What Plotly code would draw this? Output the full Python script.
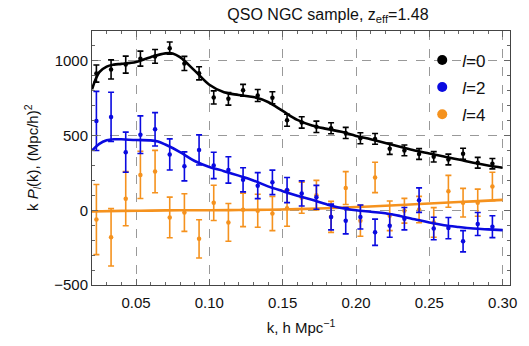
import plotly.graph_objects as go

# ---------------- data ----------------
k_data = [0.023, 0.033, 0.043, 0.053, 0.063, 0.073, 0.083, 0.093, 0.103, 0.113,
          0.123, 0.133, 0.143, 0.153, 0.163, 0.173, 0.183, 0.193, 0.203, 0.213,
          0.223, 0.233, 0.243, 0.253, 0.263, 0.273, 0.283, 0.293]

p0 = [915, 943, 975, 1015, 1030, 1085, 983, 917, 755, 746,
      803, 768, 753, 603, 588, 559, 549, 518, 482, 478,
      412, 401, 377, 358, 340, 378, 318, 312]
e0 = [57, 64, 57, 50, 46, 41, 47, 44, 44, 42,
      40, 40, 40, 40, 38, 38, 37, 37, 37, 36,
      38, 36, 36, 35, 36, 37, 36, 35]

p2 = [598, 625, 389, 506, 542, 374, 294, 404, 300, 270,
      204, 165, 187, 135, 113, 87, -45, -70, -45, -147,
      -103, -56, 68, -122, -119, -207, -92, -110]
e2 = [198, 165, 134, 126, 112, 104, 97, 101, 88, 88,
      81, 87, 82, 84, 84, 80, 86, 88, 80, 88,
      77, 75, 82, 75, 71, 71, 77, 73]

p4 = [-62, -181, 78, 237, 259, -48, -15, -191, 50, -81,
      3, -3, -22, 13, 84, 101, -44, 149, -70, 220,
      -37, -3, 5, -81, 127, 51, 51, 160]
e4 = [235, 192, 181, 158, 142, 136, 126, 128, 118, 126,
      112, 110, 114, 120, 104, 99, 104, 110, 104, 102,
      99, 83, 88, 99, 107, 96, 91, 95]

# model curves
k_m0 = [0.020, 0.025, 0.030, 0.035, 0.040, 0.050, 0.060, 0.070, 0.075, 0.080,
        0.090, 0.100, 0.110, 0.120, 0.130, 0.140, 0.150, 0.160, 0.170, 0.180,
        0.190, 0.200, 0.210, 0.220, 0.230, 0.240, 0.250, 0.260, 0.270, 0.280,
        0.290, 0.300]
m0 = [810, 925, 962, 975, 980, 992, 1025, 1050, 1050, 1025,
      935, 840, 790, 772, 758, 725, 665, 605, 568, 545,
      525, 498, 475, 450, 425, 400, 380, 360, 340, 318,
      300, 285]

k_m2 = [0.020, 0.025, 0.030, 0.035, 0.040, 0.050, 0.060, 0.065, 0.070, 0.080,
        0.090, 0.100, 0.110, 0.120, 0.130, 0.140, 0.150, 0.160, 0.170, 0.180,
        0.190, 0.200, 0.210, 0.220, 0.230, 0.240, 0.250, 0.260, 0.270, 0.280,
        0.290, 0.300]
m2 = [400, 445, 468, 475, 475, 470, 468, 460, 440, 390,
      330, 290, 262, 232, 200, 160, 128, 98, 70, 40,
      15, 0, -10, -20, -38, -60, -82, -100, -112, -122,
      -128, -133]

k_m4 = [0.02, 0.04, 0.06, 0.08, 0.10, 0.12, 0.14, 0.16, 0.18, 0.20,
        0.22, 0.24, 0.26, 0.28, 0.30]
m4 = [-8, -4, -2, 0, 0, 2, 4, 8, 14, 22, 30, 40, 50, 60, 70]

labels = ["<i>l</i>=0", "<i>l</i>=2", "<i>l</i>=4"]
colors = ["#000000", "#0a0ae0", "#f5921e"]

x_ticks = [0.05, 0.10, 0.15, 0.20, 0.25, 0.30]
x_ticktext = ["0.05", "0.10", "0.15", "0.20", "0.25", "0.30"]
y_ticks = [-500, 0, 500, 1000]
y_ticktext = ["\u2212500", "0", "500", "1000"]

FONT = "Liberation Sans, Arial, sans-serif"

fig = go.Figure()

series = [(p0, e0, k_m0, m0), (p2, e2, k_m2, m2), (p4, e4, k_m4, m4)]
# draw in reverse so black is on top
for idx in [2, 1, 0]:
    p, e, km, m = series[idx]
    c = colors[idx]
    fig.add_trace(go.Scatter(x=km, y=m, mode="lines", line=dict(color=c, width=2.6, shape="spline"),
                             showlegend=False, hoverinfo="skip"))
    fig.add_trace(go.Scatter(x=k_data, y=p, mode="markers",
                             marker=dict(color=c, size=4.5),
                             error_y=dict(type="data", array=e, color=c, thickness=1.6, width=3),
                             showlegend=False))

for idx in range(3):
    fig.add_trace(go.Scatter(x=[None], y=[None], mode="markers", name=labels[idx],
                             marker=dict(color=colors[idx], size=10),
                             legendgroup=str(idx)))

axis_common = dict(
    showline=True, linecolor="#444", linewidth=1, mirror="allticks",
    ticks="inside", ticklen=6, tickcolor="#666", tickwidth=1,
    showgrid=True, gridcolor="#999", griddash="dash", gridwidth=1,
    zeroline=False,
    tickfont=dict(family=FONT, size=15, color="#111"),
)

fig.update_xaxes(range=[0.02, 0.305], tickvals=x_ticks, ticktext=x_ticktext,
                 ticklabelstandoff=4,
                 minor=dict(dtick=0.01, tick0=0.0, ticks="inside", ticklen=3, tickcolor="#666", showgrid=False),
                 title=dict(text="k, h Mpc<sup>\u22121</sup>", font=dict(family=FONT, size=15, color="#111"), standoff=12),
                 **axis_common)
fig.update_yaxes(range=[-500, 1200], tickvals=y_ticks, ticktext=y_ticktext,
                 minor=dict(dtick=100, tick0=0, ticks="inside", ticklen=3, tickcolor="#666", showgrid=False),
                 **axis_common)

fig.add_annotation(text="k <i>P</i><sub><i>l</i></sub>(k), (Mpc/h)<sup>2</sup>",
                   xref="paper", yref="paper", x=0, y=0.5, xshift=-60,
                   xanchor="center", yanchor="middle", textangle=-90, showarrow=False,
                   font=dict(family=FONT, size=15, color="#111"))

fig.update_layout(
    width=529, height=346,
    margin=dict(l=92, r=18, t=31, b=59),
    paper_bgcolor="white", plot_bgcolor="white",
    title=dict(text="QSO NGC sample, z<sub>eff</sub>=1.48", x=0.62, xanchor="center",
               y=0.975, yanchor="top", font=dict(family=FONT, size=16, color="#111")),
    legend=dict(x=0.79, y=0.955, xanchor="left", yanchor="top", bgcolor="rgba(0,0,0,0)",
                font=dict(family=FONT, size=17, color="#111"), traceorder="grouped",
                tracegroupgap=2, itemwidth=30),
    showlegend=True,
)

fig.write_html("out.html")
